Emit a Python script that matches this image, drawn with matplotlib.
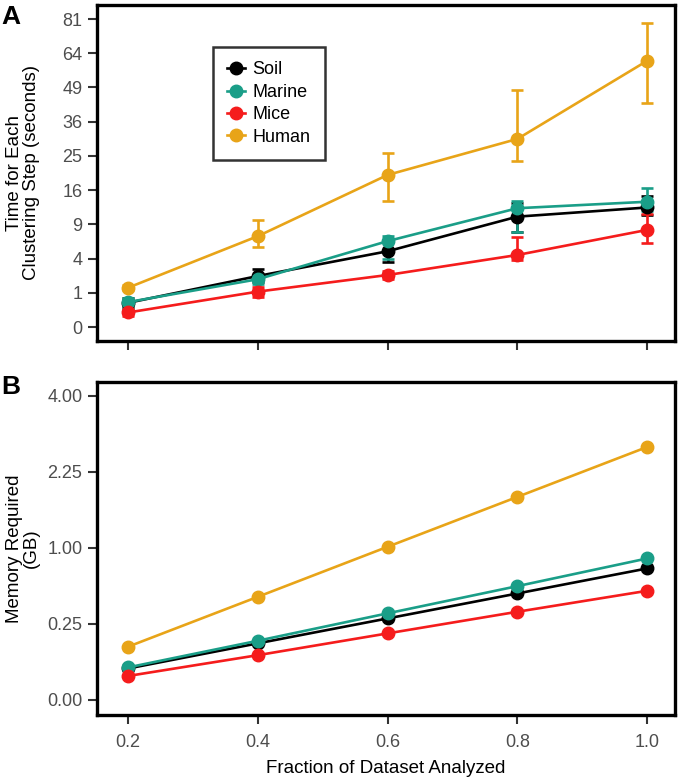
import numpy as np
import matplotlib
matplotlib.use('Agg')
import matplotlib.pyplot as plt
from matplotlib.lines import Line2D

plt.rcParams['font.family'] = ['Liberation Sans', 'DejaVu Sans']

# data
fraction = [0.2, 0.4, 0.6, 0.8, 1.0]
groups = ['Soil', 'Marine', 'Mice', 'Human']
colors = {'Soil': 'black', 'Marine': '#1a9e88', 'Mice': '#f51c1c', 'Human': '#e8a418'}

# panel A: time per clustering step (seconds), mean and error bar limits
time_mean = {
    'Soil':   [0.50, 2.22, 4.90, 10.4, 12.2],
    'Marine': [0.53, 1.95, 6.30, 12.05, 13.4],
    'Mice':   [0.18, 1.07, 2.31, 4.43, 8.05],
    'Human':  [1.32, 7.05, 19.75, 30.2, 60.5],
}
time_low = {
    'Soil':   [0.30, 1.75, 3.65, 7.67, 10.7],
    'Marine': [0.35, 1.60, 3.90, 7.76, 11.5],
    'Mice':   [0.10, 0.75, 2.00, 3.84, 6.00],
    'Human':  [1.15, 5.47, 13.6, 23.5, 42.9],
}
time_high = {
    'Soil':   [0.70, 2.85, 6.20, 13.1, 14.67],
    'Marine': [0.72, 2.30, 7.08, 13.6, 16.45],
    'Mice':   [0.26, 1.39, 2.65, 6.97, 11.0],
    'Human':  [1.50, 9.75, 25.9, 48.0, 79.0],
}

# panel B: memory required (GB)
memory = {
    'Soil':   [0.043, 0.139, 0.288, 0.491, 0.749],
    'Marine': [0.046, 0.152, 0.325, 0.561, 0.867],
    'Mice':   [0.025, 0.087, 0.192, 0.337, 0.516],
    'Human':  [0.123, 0.461, 1.016, 1.785, 2.77],
}

time_ticks = [0, 1, 4, 9, 16, 25, 36, 49, 64, 81]
mem_ticks = [0.0, 0.25, 1.0, 2.25, 4.0]
x_ticks = [0.2, 0.4, 0.6, 0.8, 1.0]


def fwd(y):
    y = np.asarray(y, dtype=float)
    return np.sign(y) * np.sqrt(np.abs(y))


def inv(y):
    y = np.asarray(y, dtype=float)
    return np.sign(y) * y**2


W, H = 680, 781
fig = plt.figure(figsize=(W / 100, H / 100), dpi=100)
axA = fig.add_axes([97 / W, 1 - 341 / H, 578 / W, 336 / H])
axB = fig.add_axes([97 / W, 1 - 715 / H, 578 / W, 333 / H])

LW = 1.9
MS = 9
FS = 13

for g in groups:
    m = np.array(time_mean[g])
    lo = m - np.array(time_low[g])
    hi = np.array(time_high[g]) - m
    axA.errorbar(fraction, m, yerr=[lo, hi], color=colors[g], lw=LW, marker='o', ms=MS,
                 capsize=4.5, capthick=LW, elinewidth=LW, label=g)
    axB.plot(fraction, memory[g], color=colors[g], lw=LW, marker='o', ms=MS)

for ax in (axA, axB):
    ax.set_yscale('function', functions=(fwd, inv))
    ax.set_xlim(0.152, 1.043)
    ax.set_xticks(x_ticks)
    for s in ax.spines.values():
        s.set_linewidth(2.4)
        s.set_color('black')
    ax.tick_params(axis='both', direction='out', length=6.5, width=1.5, color='#333333',
                   labelcolor='#4d4d4d', labelsize=FS)
    ax.tick_params(axis='y', pad=4)
    ax.tick_params(axis='x', pad=7.5)

axA.set_ylim(-0.409**2, 9.41**2)
axA.set_yticks(time_ticks)
axA.set_yticklabels([str(t) for t in time_ticks])
axA.set_xticklabels([])
axA.set_ylabel('Time for Each\nClustering Step (seconds)', fontsize=13.5, linespacing=1.0)
axA.yaxis.set_label_coords(-0.098, 0.5)

axB.set_ylim(-0.0987**2, 2.092**2)
axB.set_yticks(mem_ticks)
axB.set_yticklabels([f'{t:.2f}' for t in mem_ticks])
axB.set_xticklabels([f'{t:.1f}' for t in x_ticks])
axB.set_ylabel('Memory Required\n(GB)', fontsize=13.5, linespacing=1.0)
axB.yaxis.set_label_coords(-0.098, 0.5)
axB.set_xlabel('Fraction of Dataset Analyzed', fontsize=13.5, labelpad=6)

handles = [Line2D([], [], color=colors[g], lw=LW, marker='o', ms=MS) for g in groups]
leg = axA.legend(handles, groups, loc='upper left', bbox_to_anchor=(0.2, 0.875),
                 fontsize=13, frameon=True, fancybox=False, handlelength=1.0,
                 handletextpad=0.4, borderpad=0.8, labelspacing=0.3, borderaxespad=0)
leg.get_frame().set_edgecolor('black')
leg.get_frame().set_linewidth(1.8)

fig.text(1 / W, 1 - 17 / H, 'A', fontsize=19, fontweight='bold', va='center', ha='left')
fig.text(1 / W, 1 - 387 / H, 'B', fontsize=19, fontweight='bold', va='center', ha='left')

fig.savefig('out.png', dpi=100)
